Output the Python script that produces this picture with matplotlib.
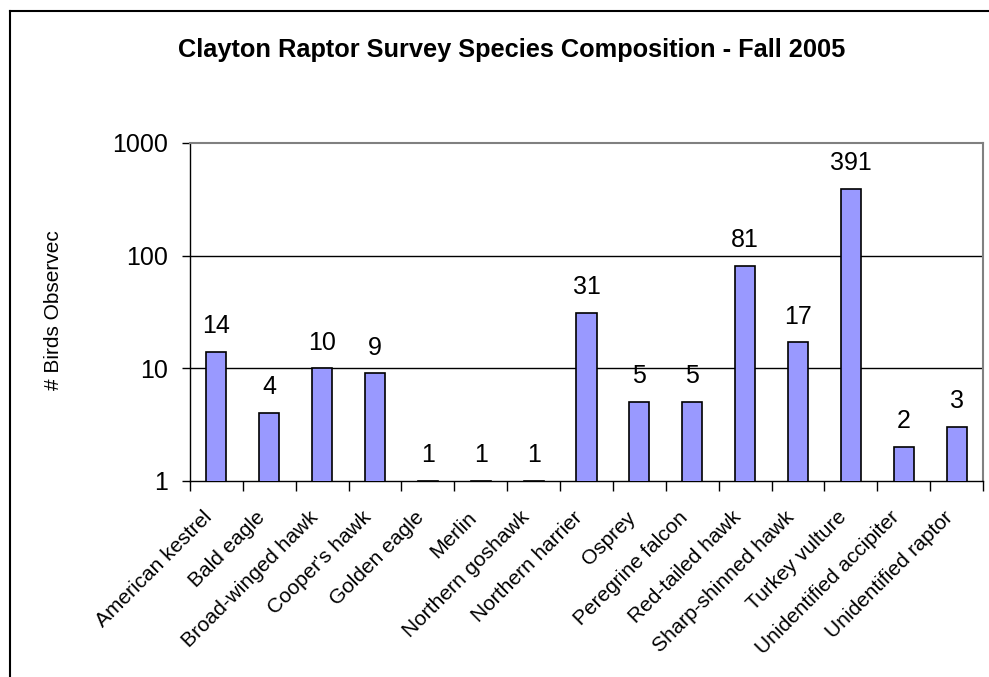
import numpy as np
import matplotlib
matplotlib.use("Agg")
import matplotlib.pyplot as plt
import matplotlib.transforms as mtransforms
from matplotlib.lines import Line2D
from matplotlib.ticker import FixedLocator, NullLocator, NullFormatter

species = ["American kestrel", "Bald eagle", "Broad-winged hawk", "Cooper's hawk",
           "Golden eagle", "Merlin", "Northern goshawk", "Northern harrier",
           "Osprey", "Peregrine falcon", "Red-tailed hawk", "Sharp-shinned hawk",
           "Turkey vulture", "Unidentified accipiter", "Unidentified raptor"]
counts = [14, 4, 10, 9, 1, 1, 1, 31, 5, 5, 81, 17, 391, 2, 3]
y_ticks = [1, 10, 100, 1000]

plt.rcParams["font.family"] = ["Liberation Sans", "DejaVu Sans"]

fig = plt.figure(figsize=(9.89, 6.77), dpi=100)
ax = fig.add_axes([190 / 989, 1 - 481 / 677, 793 / 989, 338 / 677])

x = np.arange(len(species))
ax.set_yscale("log")
ax.bar(x, counts, width=0.38, color="#9999FF", edgecolor="black", linewidth=1.2, zorder=3)
for xi, c in zip(x, counts):
    ax.annotate(str(c), (xi, c), xytext=(0, 13.5), textcoords="offset points",
                ha="center", va="baseline", fontsize=18)

ax.set_xlim(-0.5, len(species) - 0.5)
ax.set_ylim(1, 1000)

# y axis: decades only, gridlines at the inner decades
ax.yaxis.set_major_locator(FixedLocator(y_ticks))
ax.yaxis.set_minor_locator(NullLocator())
ax.yaxis.set_minor_formatter(NullFormatter())
ax.set_yticklabels([str(t) for t in y_ticks], fontsize=18)
ax.tick_params(axis="y", direction="out", length=6, width=1, pad=10)
for t in y_ticks[1:3]:
    ax.axhline(t, color="black", linewidth=1, zorder=1)

# x axis: labels at the centres, tick marks between categories
ax.set_xticks(x)
ax.set_xticklabels(species, rotation=45, ha="right", va="center",
                   rotation_mode="anchor", fontsize=15)
ax.tick_params(axis="x", which="major", length=0, pad=24)
ax.set_xticks(np.arange(-0.5, len(species)), minor=True)
ax.tick_params(axis="x", which="minor", direction="out", length=7, width=1)
shift = mtransforms.ScaledTranslation(-7 / 100, 0, fig.dpi_scale_trans)
for lbl in ax.get_xticklabels():
    lbl.set_transform(lbl.get_transform() + shift)

for side in ["top", "right"]:
    ax.spines[side].set_color("#808080")
    ax.spines[side].set_linewidth(1.5)
for side in ["left", "bottom"]:
    ax.spines[side].set_color("black")
    ax.spines[side].set_linewidth(1)

fig.text(512 / 989, 1 - 57 / 677, "Clayton Raptor Survey Species Composition - Fall 2005",
         ha="center", va="baseline", fontsize=18.3, fontweight="bold")
fig.text(54 / 989, 1 - 310 / 677, "# Birds Observec", rotation=90,
         ha="center", va="center", fontsize=15)

# chart border (left and top edges)
fig.add_artist(Line2D([10 / 989, 10 / 989], [0, 1 - 11 / 677], color="black", linewidth=1.5))
fig.add_artist(Line2D([10 / 989, 1], [1 - 11 / 677, 1 - 11 / 677], color="black", linewidth=1.5))

fig.savefig("out.png", dpi=100)
